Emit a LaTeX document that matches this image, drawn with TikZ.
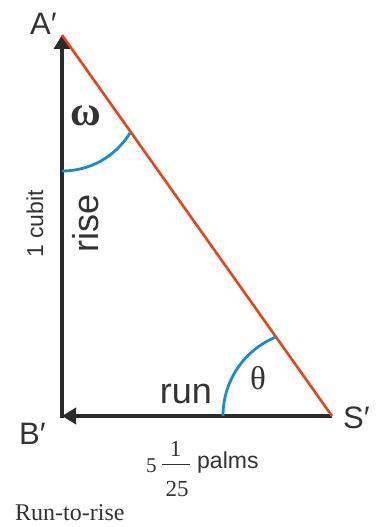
\documentclass[tikz,border=0pt]{standalone}
\usepackage{fontspec}
\setmainfont{Liberation Sans}
\newfontfamily\serifface{Liberation Serif}
\usetikzlibrary{arrows.meta}
\definecolor{edgegray}{HTML}{2B2B2B}
\definecolor{txtgray}{HTML}{333333}
\definecolor{hypo}{HTML}{E2461A}
\definecolor{anglblue}{HTML}{1A8BD3}
\tikzset{
  leg/.style={draw=edgegray, line width=4.2pt, -{Triangle[length=14pt,width=16pt]}},
  hyp/.style={draw=hypo, line width=2.6pt},
  angarc/.style={draw=anglblue, line width=2.8pt},
  vert/.style={text=txtgray, inner sep=0pt, font=\fontsize{31}{33}\selectfont},
  big/.style={text=txtgray, inner sep=0pt, font=\fontsize{36}{38}\selectfont},
  greek/.style={text=txtgray, inner sep=0pt, font=\serifface\bfseries\fontsize{42}{44}\selectfont},
  small/.style={text=txtgray, inner sep=0pt, font=\fontsize{23}{25}\selectfont},
  digit/.style={text=txtgray, inner sep=0pt, font=\serifface\fontsize{21}{23}\selectfont},
  fracdigit/.style={text=txtgray, inner sep=0pt, font=\serifface\fontsize{23}{25}\selectfont},
}
\begin{document}
\begin{tikzpicture}[x=1pt,y=-1pt]
\useasboundingbox (0,0) rectangle (378,527);
\coordinate (A) at (62,35);
\coordinate (B) at (62,416);
\coordinate (Bv) at (62,418);
\coordinate (S) at (332,416);
\coordinate (Avt) at (62,35);
% legs
\draw[leg] (Bv) -- (Avt);
\draw[leg] (S) -- (B);
% hypotenuse
\draw[hyp] (A) -- (S);
% angle arcs
\coordinate (w1) at (62,171);
\coordinate (w2) at (130,133);
\coordinate (t1) at (223,416);
\coordinate (t2) at (276,337);
\draw[angarc] (w1) .. controls (90,171) and (115,157) .. (w2);
\draw[angarc] (t1) .. controls (223,381) and (244,350) .. (t2);
% labels
\node[vert, anchor=base west] (lA) at (30,35) {A′};
\node[vert, anchor=base west] (lB) at (19,444) {B′};
\node[vert, anchor=base west] (lS) at (343,428) {S′};
\node[greek, anchor=base] (lw) at (86,125) {ω};
\node[greek, font=\serifface\fontsize{33}{35}\selectfont, anchor=base] (lt) at (258,389) {θ};
\node[big, anchor=base] (lrun) at (186,403) {run};
\node[big, anchor=base, rotate=90] (lrise) at (98,223) {rise};
\node[small, anchor=base, rotate=90] (lcubit) at (43,224) {1 cubit};
% 5 1/25 palms
\node[digit, anchor=base west] (lfive) at (146,472) {5};
\coordinate (barL) at (162,464);
\coordinate (barR) at (190,464);
\draw[txtgray, line width=0.8pt] (barL) -- (barR);
\node[fracdigit, anchor=base] (lnum) at (175.5,456) {1};
\node[fracdigit, anchor=base] (lden) at (177,496) {25};
\node[small, anchor=base west] (lpalms) at (197,468) {palms};
\node[text=txtgray, inner sep=0pt, anchor=base west, font=\serifface\fontsize{24}{26}\selectfont] (lcap) at (15,520) {Run-to-rise};
\end{tikzpicture}
\end{document}
